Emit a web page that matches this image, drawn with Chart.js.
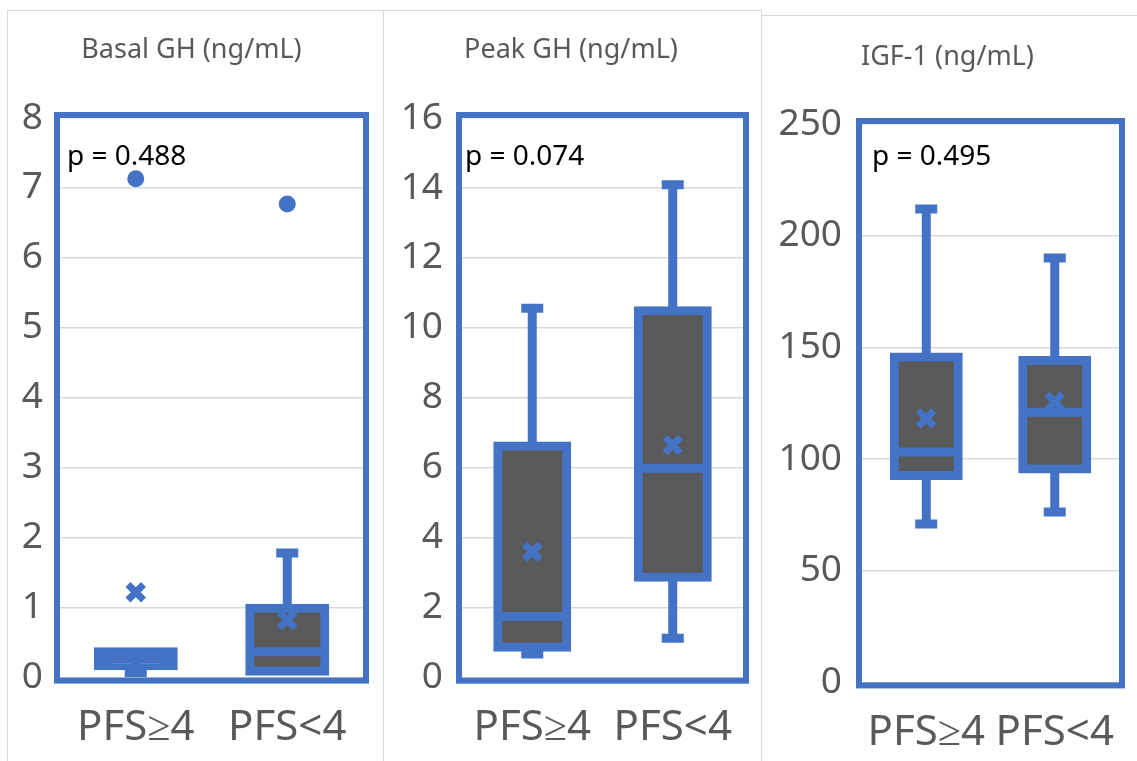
<!DOCTYPE html>
<html>
<head>
<meta charset="utf-8">
<script src="https://cdn.jsdelivr.net/npm/chart.js@4.4.1/dist/chart.umd.min.js"></script>
<style>
  html, body { margin: 0; padding: 0; background: #fff; overflow: hidden; }
  body { width: 1137px; height: 761px; position: relative; font-family: "Noto Sans", sans-serif; }
  .panel { position: absolute; border: 1px solid #d9d9d9; background: #fff; }
  canvas { position: absolute; }
</style>
</head>
<body>
<div class="panel" style="left:7px;top:10px;width:375px;height:760px"></div>
<div class="panel" style="left:383px;top:10px;width:377px;height:760px"></div>
<div class="panel" style="left:761px;top:15px;width:380px;height:760px"></div>
<canvas id="basal" width="374" height="750" style="left:8px;top:11px"></canvas>
<canvas id="peak" width="376" height="750" style="left:384px;top:11px"></canvas>
<canvas id="igf" width="375" height="745" style="left:762px;top:16px"></canvas>
<script>
'use strict';

const BLUE = '#4472C4';
const BOX_FILL = '#595959';
const GREY_TEXT = '#595959';

const categories = ['PFS≥4', 'PFS<4'];

// Basal GH (ng/mL)
const basalMin = [0.07, 0.09];
const basalQ1 = [0.17, 0.09];
const basalMedian = [0.27, 0.37];
const basalQ3 = [0.37, 0.99];
const basalMax = [0.37, 1.78];
const basalMean = [1.22, 0.82];
const basalOutliers = [7.13, 6.77];
const basalTicks = [0, 8, 1];

// Peak GH (ng/mL)
const peakMin = [0.68, 1.13];
const peakQ1 = [0.87, 2.87];
const peakMedian = [1.75, 5.99];
const peakQ3 = [6.62, 10.49];
const peakMax = [10.56, 14.09];
const peakMean = [3.6, 6.65];
const peakOutliers = [null, null];
const peakTicks = [0, 16, 2];

// IGF-1 (ng/mL)
const igfMin = [70.9, 76.3];
const igfQ1 = [92.6, 95.5];
const igfMedian = [103.1, 121.0];
const igfQ3 = [145.7, 144.1];
const igfMax = [211.9, 190];
const igfMean = [118.2, 125.6];
const igfOutliers = [null, null];
const igfTicks = [0, 250, 50];

// thick blue frame around the plot area
const framePlugin = {
  id: 'frame',
  beforeDatasetsDraw(chart) {
    const { ctx, chartArea: a } = chart;
    ctx.save();
    ctx.strokeStyle = BLUE;
    ctx.lineWidth = 6;
    ctx.strokeRect(a.left - 3, a.top - 3, a.right - a.left + 6, a.bottom - a.top + 6);
    ctx.restore();
  }
};

// "p = ..." label in the top-left corner of the plot
const pLabelPlugin = {
  id: 'pLabel',
  afterDraw(chart, args, opts) {
    if (!opts.text) return;
    const { ctx, chartArea: a } = chart;
    ctx.save();
    ctx.font = '28px "Noto Sans"';
    ctx.fillStyle = '#000';
    ctx.textBaseline = 'middle';
    ctx.textAlign = 'left';
    ctx.fillText(opts.text, a.left + opts.dx, a.top + opts.dy);
    ctx.restore();
  }
};

function boxChart(id, o) {
  const capsLow = o.min.map((v, i) => (v < o.q1[i] ? v : null));
  const capsHigh = o.max.map((v, i) => (v > o.q3[i] ? v : null));
  const point = (data, style, radius, width, order, fill) => ({
    type: 'line',
    data: data,
    showLine: false,
    pointStyle: style,
    pointRadius: radius,
    pointHoverRadius: radius,
    pointBorderWidth: width,
    pointBorderColor: BLUE,
    pointBackgroundColor: fill ? BLUE : 'transparent',
    order: order
  });

  new Chart(document.getElementById(id), {
    type: 'bar',
    data: {
      labels: categories,
      datasets: [
        {
          // whiskers
          data: o.min.map((v, i) => [v, o.max[i]]),
          backgroundColor: BLUE,
          borderWidth: 0,
          grouped: false,
          maxBarThickness: 9,
          order: 6
        },
        {
          // boxes q1..q3 (a box thinner than its outline is all blue)
          data: o.q1.map((v, i) => [v, o.q3[i]]),
          backgroundColor: (c) => {
            const y = c.chart.scales.y;
            const r = c.raw;
            if (!y || !r) return BOX_FILL;
            const h = Math.abs(y.getPixelForValue(r[0]) - y.getPixelForValue(r[1]));
            return h < 18 ? BLUE : BOX_FILL;
          },
          borderColor: BLUE,
          borderWidth: 9,
          borderSkipped: false,
          inflateAmount: 4.5,
          grouped: false,
          maxBarThickness: o.boxWidth,
          order: 5
        },
        point(o.median, 'line', o.boxWidth / 2, 9, 4, false),
        point(capsLow, 'line', 11, 9, 3, false),
        point(capsHigh, 'line', 11, 9, 3, false),
        point(o.mean, 'crossRot', 11, 7, 2, false),
        point(o.outliers, 'circle', 8.5, 0, 1, true)
      ]
    },
    options: {
      responsive: false,
      animation: false,
      layout: {
        autoPadding: false,
        padding: { left: o.padLeft, right: o.padRight, top: 0, bottom: 0 }
      },
      plugins: {
        legend: { display: false },
        tooltip: { enabled: false },
        title: {
          display: true,
          text: o.title,
          color: GREY_TEXT,
          font: { family: 'Noto Sans', size: 27, weight: 'normal', lineHeight: 1.2 },
          padding: { top: o.titleTop, bottom: o.titleBottom }
        },
        pLabel: { text: o.pText, dx: o.pDx, dy: o.pDy }
      },
      scales: {
        x: {
          grid: { display: false, drawTicks: false },
          border: { display: false },
          ticks: {
            color: GREY_TEXT,
            font: { family: 'Noto Sans', size: 42 },
            padding: 25,
            autoSkip: false,
            maxRotation: 0,
            minRotation: 0
          },
          afterFit(scale) {
            scale.height = o.xHeight;
            scale.paddingLeft = 0;
            scale.paddingRight = 0;
          }
        },
        y: {
          min: o.ticks[0],
          max: o.ticks[1],
          grid: { color: '#d9d9d9', lineWidth: 1.5, drawTicks: false },
          border: { display: false },
          ticks: {
            stepSize: o.ticks[2],
            color: GREY_TEXT,
            font: { family: 'Noto Sans', size: 37 },
            padding: o.yPad
          },
          afterFit(scale) { scale.width = o.yWidth; }
        }
      }
    },
    plugins: [framePlugin, pLabelPlugin]
  });
}

boxChart('basal', {
  title: 'Basal GH (ng/mL)', pText: 'p = 0.488', pDx: 7, pDy: 39,
  min: basalMin, q1: basalQ1, median: basalMedian, q3: basalQ3, max: basalMax,
  mean: basalMean, outliers: basalOutliers, ticks: basalTicks,
  boxWidth: 75, yWidth: 40, yPad: 17, padLeft: 12, padRight: 19, xHeight: 83.4,
  titleTop: 23, titleBottom: 51.6
});

boxChart('peak', {
  title: 'Peak GH (ng/mL)', pText: 'p = 0.074', pDx: 3, pDy: 39,
  min: peakMin, q1: peakQ1, median: peakMedian, q3: peakQ3, max: peakMax,
  mean: peakMean, outliers: peakOutliers, ticks: peakTicks,
  boxWidth: 69, yWidth: 63, yPad: 19, padLeft: 15, padRight: 17, xHeight: 83.3,
  titleTop: 23, titleBottom: 51.6
});

boxChart('igf', {
  title: 'IGF-1 (ng/mL)', pText: 'p = 0.495', pDx: 10, pDy: 33,
  min: igfMin, q1: igfQ1, median: igfMedian, q3: igfQ3, max: igfMax,
  mean: igfMean, outliers: igfOutliers, ticks: igfTicks,
  boxWidth: 64, yWidth: 86, yPad: 20, padLeft: 14, padRight: 18, xHeight: 78.6,
  titleTop: 25, titleBottom: 50.6
});
</script>
</body>
</html>
